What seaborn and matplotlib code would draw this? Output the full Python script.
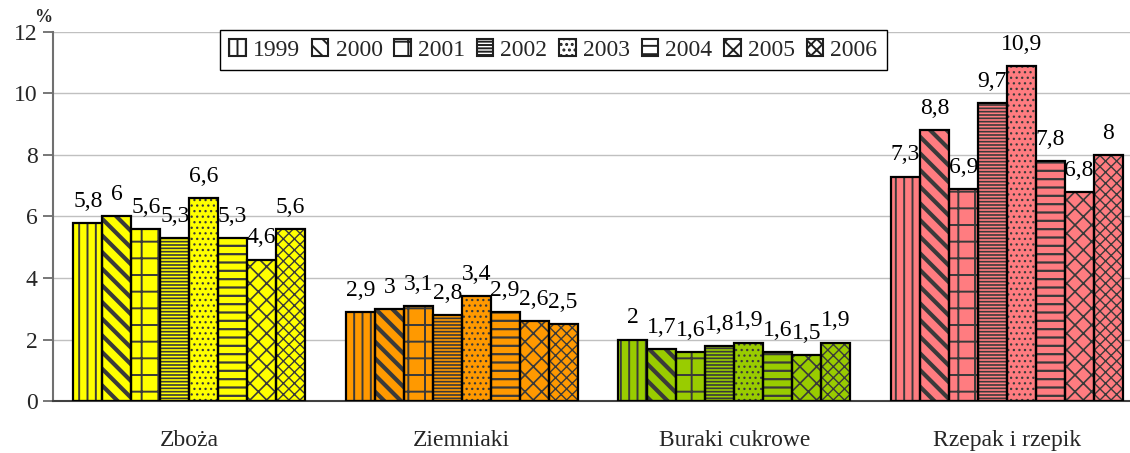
import matplotlib
matplotlib.use("Agg")
import matplotlib.pyplot as plt
import pandas as pd
import seaborn as sns
from matplotlib.patches import Patch, Rectangle

# Crop groups and survey years
categories = ["Zboża", "Ziemniaki", "Buraki cukrowe", "Rzepak i rzepik"]
years = ["1999", "2000", "2001", "2002", "2003", "2004", "2005", "2006"]

# Share per crop, in %, one value per year
zboza = [5.8, 6.0, 5.6, 5.3, 6.6, 5.3, 4.6, 5.6]
ziemniaki = [2.9, 3.0, 3.1, 2.8, 3.4, 2.9, 2.6, 2.5]
buraki = [2.0, 1.7, 1.6, 1.8, 1.9, 1.6, 1.5, 1.9]
rzepak = [7.3, 8.8, 6.9, 9.7, 10.9, 7.8, 6.8, 8.0]

y_ticks = [0, 2, 4, 6, 8, 10, 12]

group_colors = ["#FFFF00", "#FF9900", "#99CC00", "#FF7C80"]
year_hatches = ["||", "\\\\", "+", "-----", "...", "--", "xx", "xxx"]
hatch_widths = [1.4, 3.0, 1.4, 1.2, 0.9, 1.6, 1.2, 1.0]
hatch_grey = "#3a3a3a"

series = [zboza, ziemniaki, buraki, rzepak]
df = pd.DataFrame(
    [(cat, yr, val) for cat, vals in zip(categories, series) for yr, val in zip(years, vals)],
    columns=["category", "year", "value"],
)

sns.set_style("white")
plt.rcParams["font.family"] = ["Liberation Serif", "DejaVu Serif"]
plt.rcParams["hatch.linewidth"] = 1.4

FS = 17
fig = plt.figure(figsize=(11.3, 4.53), dpi=100)
ax = fig.add_axes([53 / 1130, 52 / 453, 1090 / 1130, 369 / 453])

width = 0.85
sns.barplot(
    data=df, x="category", y="value", hue="year",
    order=categories, hue_order=years,
    width=width, gap=0, dodge=True, saturation=1,
    edgecolor=hatch_grey, linewidth=0, legend=False, ax=ax,
)

n = len(years)
bw = width / n
bars = list(ax.patches)
for p in bars:
    cx = p.get_x() + p.get_width() / 2
    g = int(round(cx))
    k = int(round((cx - g + width / 2 - bw / 2) / bw))
    p.set_facecolor(group_colors[g])
    p.set_hatch(year_hatches[k])
    if hasattr(p, "set_hatch_linewidth"):
        p.set_hatch_linewidth(hatch_widths[k])
    p.set_zorder(2)
    ax.add_patch(Rectangle(p.get_xy(), p.get_width(), p.get_height(),
                           fill=False, edgecolor="black", linewidth=1.6, zorder=3))
    v = p.get_height()
    ax.annotate(f"{v:g}".replace(".", ","), (cx, v), xytext=(0, 8),
                textcoords="offset points", ha="center", va="bottom",
                fontsize=FS, color="black", zorder=4)

ax.set_xlim(-0.5, len(categories) - 0.5)
ax.set_ylim(0, 12)
ax.set_yticks(y_ticks)
ax.set_yticklabels([str(t) for t in y_ticks], fontsize=FS)
ax.set_xticks(range(len(categories)))
ax.set_xticklabels(categories, fontsize=FS)
ax.set_xticks([i - 0.5 for i in range(len(categories) + 1)], minor=True)
ax.tick_params(axis="x", which="major", length=0, pad=21)
ax.tick_params(axis="x", which="minor", length=6, width=1.2, color="#606060", direction="out")
ax.tick_params(axis="y", length=7, width=1.2, color="#606060", direction="out", pad=4, left=True)
ax.set_xlabel("")
ax.set_ylabel("")

ax.yaxis.grid(True, color="#c0c0c0", linewidth=1)
ax.set_axisbelow(True)
for side in ("top", "right"):
    ax.spines[side].set_visible(False)
ax.spines["left"].set_color("#707070")
ax.spines["left"].set_linewidth(1.5)
ax.spines["bottom"].set_color("#404040")
ax.spines["bottom"].set_linewidth(1.5)

handles = []
for h, hw in zip(year_hatches, hatch_widths):
    hp = Patch(facecolor="white", edgecolor="#202020", hatch=h, linewidth=1.5)
    if hasattr(hp, "set_hatch_linewidth"):
        hp.set_hatch_linewidth(min(hw, 1.5))
    handles.append(hp)
leg = ax.legend(handles, years, ncol=n, loc="upper center",
                bbox_to_anchor=(0.459, 1.006), frameon=True, fancybox=False,
                edgecolor="black", framealpha=1, fontsize=FS,
                handlelength=0.7, handleheight=0.7, handletextpad=0.3,
                columnspacing=0.5, borderpad=0.4, borderaxespad=0)
leg.get_frame().set_linewidth(1.0)

fig.text(43 / 1130, 1 - 17 / 453, "%", ha="center", va="center",
         fontsize=13, fontweight="bold")

fig.savefig("out.png", dpi=100)
